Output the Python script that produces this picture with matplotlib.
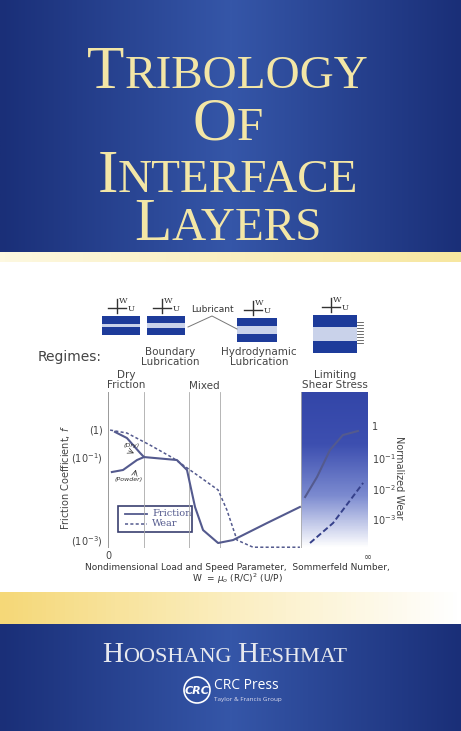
import numpy as np
import matplotlib.pyplot as plt
from matplotlib.patches import Rectangle, Circle

# chart data, x in 0..100 across the axis, y in 0..100 of chart height
fric_x = [2.7, 7.3, 12.4, 13.9, 26.6, 30.5, 33.6, 36.7, 42.5, 48.3, 61.4, 74.1]
fric_y = [74.4, 70.5, 60.9, 58.3, 56.4, 50.0, 26.3, 11.5, 3.2, 5.1, 16.0, 26.3]
powder_x = [1.5, 5.8, 11.2, 13.9]
powder_y = [48.7, 50.0, 56.4, 58.3]
fric_ls_x = [76.1, 80.7, 85.7, 90.7, 96.5]
fric_ls_y = [32.7, 45.5, 62.8, 72.4, 75.0]
wear_x = [0.8, 7.3, 16.2, 25.1, 35.5, 42.5, 45.9, 49.8, 56.0, 74.1]
wear_y = [75.6, 73.7, 66.0, 57.7, 45.5, 37.2, 24.4, 5.1, 0.5, 0.5]
wear_ls_x = [78.0, 86.9, 98.5]
wear_ls_y = [3.2, 16.0, 41.7]
regime_lines = [13.9, 31.3, 43.2, 74.5, 100]
left_ticks = [75.6, 57.0, 3.8]
left_labels = ['(1)', '(10$^{-1}$)', '(10$^{-3}$)']
right_ticks = [77.6, 57.0, 37.0, 18.0]
right_labels = ['1', '10$^{-1}$', '10$^{-2}$', '10$^{-3}$']

W, H = 461, 731
fig = plt.figure(figsize=(W / 100, H / 100), dpi=100)
bg = fig.add_axes([0, 0, 1, 1])
bg.set_xlim(0, W)
bg.set_ylim(H, 0)
bg.axis('off')

# top and bottom blue bands with horizontal gradient
g = np.abs(np.linspace(-1, 1, 200))
cm = plt.matplotlib.colors.LinearSegmentedColormap.from_list('b', ['#3556a8', '#1a2f78'])
bg.imshow(g[None, :], cmap=cm, extent=[0, W, 252, 0], aspect='auto', zorder=0)
bg.imshow(g[None, :], cmap=cm, extent=[0, W, H, 624], aspect='auto', zorder=0)
# yellow stripes
ycm = plt.matplotlib.colors.LinearSegmentedColormap.from_list('y', ['#fdf8e0', '#f7e7a0'])
bg.imshow(np.linspace(0, 1, 100)[None, :], cmap=ycm, extent=[0, W, 262, 252], aspect='auto', zorder=0)
ycm2 = plt.matplotlib.colors.LinearSegmentedColormap.from_list('y2', ['#f5d878', '#fbeec0', '#ffffff'])
bg.imshow(np.linspace(0, 1, 100)[None, :], cmap=ycm2, extent=[0, W, 624, 592], aspect='auto', zorder=0)

fig.canvas.draw()
rend = fig.canvas.get_renderer()


def small_caps(text, cx, cy, big, small, color, font='Liberation Serif'):
    # draw words with big first letters, measure, then center
    parts = []
    for word in text.split(' '):
        parts.append((word[0], big))
        if len(word) > 1:
            parts.append((word[1:], small))
        parts.append((' ', small))
    parts = parts[:-1]
    objs = []
    for s, size in parts:
        t = bg.text(0, cy, s, fontsize=size, family=font, color=color, va='baseline')
        objs.append(t)
    widths = [t.get_window_extent(rend).width for t in objs]
    x = cx - sum(widths) / 2
    for t, w in zip(objs, widths):
        t.set_x(x)
        x += w


ttl = '#f3e6a6'
small_caps('TRIBOLOGY', 228, 88, 44, 34, ttl)
small_caps('OF', 228, 140, 44, 34, ttl)
small_caps('INTERFACE', 228, 192, 44, 34, ttl)
small_caps('LAYERS', 228, 240, 44, 34, ttl)
small_caps('HOOSHANG HESHMAT', 225, 662, 21, 16, '#e6e8ee')

# publisher logo
bg.add_patch(Circle((197, 690), 13, fill=False, ec='white', lw=1.2))
bg.text(197, 691, 'CRC', color='white', fontsize=8, ha='center', va='center', style='italic', weight='bold')
bg.text(214, 689, 'CRC Press', color='white', fontsize=10, va='baseline', family='Open Sans')
bg.text(214, 701, 'Taylor & Francis Group', color='#dde', fontsize=4.6, va='baseline', family='Open Sans')

# regime pictures
rects = [(102, 316, 38, 19, 0.35), (147, 316, 38, 19, 0.5), (237, 318, 40, 24, 0.6), (313, 315, 44, 38, 0.6)]
for x0, y0, w, h, frac in rects:
    bg.add_patch(Rectangle((x0, y0), w, h, fc='#1d3b9a', ec='none'))
    lh = h * frac * 0.6
    bg.add_patch(Rectangle((x0, y0 + (h - lh) / 2), w, lh, fc='#c9d2ea', ec='none'))
    ax_ = x0 + w / 2 - 4
    bg.plot([ax_, ax_], [y0 - 17, y0 - 3], color='#333', lw=1)
    bg.plot([ax_ - 9, ax_ + 9], [y0 - 8, y0 - 8], color='#333', lw=1)
    bg.text(ax_ + 2, y0 - 13, 'W', fontsize=6, family='DejaVu Serif', color='#333')
    bg.text(ax_ + 11, y0 - 5, 'U', fontsize=6, family='DejaVu Serif', color='#333')
for yy in range(322, 346, 3):
    bg.plot([357, 363], [yy, yy], color='#555', lw=0.6)
bg.text(212, 312, 'Lubricant', fontsize=6.5, ha='center', color='#333')
bg.plot([188, 212, 237], [327, 316, 329], color='#777', lw=0.7)

gray = '#444'
bg.text(38, 357, 'Regimes:', fontsize=10, color=gray, va='center')
bg.text(170, 357, 'Boundary\nLubrication', fontsize=7.5, color=gray, ha='center', va='center', linespacing=0.9)
bg.text(259, 357, 'Hydrodynamic\nLubrication', fontsize=7.5, color=gray, ha='center', va='center', linespacing=0.9)
bg.text(126, 380, 'Dry\nFriction', fontsize=7.5, color=gray, ha='center', va='center', linespacing=0.9)
bg.text(204, 386, 'Mixed', fontsize=7.5, color=gray, ha='center', va='center')
bg.text(335, 380, 'Limiting\nShear Stress', fontsize=7.5, color=gray, ha='center', va='center', linespacing=0.9)
bg.text(65, 478, 'Friction Coefficient, $f$', fontsize=7, color=gray, rotation=90, ha='center', va='center')
bg.text(399, 478, 'Normalized Wear', fontsize=7, color=gray, rotation=-90, ha='center', va='center')
bg.text(237, 567, 'Nondimensional Load and Speed Parameter,  Sommerfeld Number,', fontsize=6.5, color='#333', ha='center', va='center')
bg.text(237, 579, r'W  = $\mu_o$ (R/C)$^2$ (U/P)', fontsize=6.5, color='#333', ha='center', va='center')

# chart axes: x 108..367, y 392..548 px
ax = fig.add_axes([108 / W, 1 - 548 / H, 259 / W, 156 / H])
ax.set_xlim(0, 100)
ax.set_ylim(0, 100)
ax.patch.set_alpha(0)
for s in ax.spines.values():
    s.set_visible(False)
ax.set_xticks([])
ax.set_yticks([])
ax.axhline(0, color='#999', lw=0.7)
ax.axvline(0, color='#999', lw=0.7)
for xv in regime_lines:
    ax.axvline(xv, color='#aaa', lw=0.6)
shade = plt.matplotlib.colors.LinearSegmentedColormap.from_list('s', ['#ffffff', '#7c8bd0', '#3d4fb0', '#3346a8'])
ax.imshow(np.linspace(0, 1, 100)[:, None], cmap=shade, extent=[74.5, 100, 0, 100], origin='lower', aspect='auto', zorder=0)

lc = '#545a8e'
ax.plot(fric_x, fric_y, color=lc, lw=1.5)
ax.plot(powder_x, powder_y, color=lc, lw=1.5)
ax.plot(fric_ls_x, fric_ls_y, color=lc, lw=1.5)
ax.plot(wear_x, wear_y, color=lc, lw=1.1, ls=(0, (2, 1.5)))
ax.plot(wear_ls_x, wear_ls_y, color='#35408a', lw=1.4, ls=(0, (3, 1.5)))
ax.text(9, 65, '(Dry)', fontsize=4.5, style='italic', color='#333', ha='center')
ax.text(8, 43, '(Powder)', fontsize=4.5, style='italic', color='#333', ha='center')
ax.annotate('', xy=(11, 60), xytext=(7, 63), arrowprops=dict(arrowstyle='->', lw=0.5, color='#333'))
ax.annotate('', xy=(11, 52), xytext=(10, 45), arrowprops=dict(arrowstyle='->', lw=0.5, color='#333'))
for yv, lab in zip(left_ticks, left_labels):
    ax.text(-2, yv, lab, fontsize=7, color=gray, ha='right', va='center')
for yv, lab in zip(right_ticks, right_labels):
    ax.text(102, yv, lab, fontsize=7, color=gray, ha='left', va='center')
ax.text(0, -5, '0', fontsize=7, color=gray, ha='center', va='center')
ax.text(100, -5, r'$\infty$', fontsize=7, color=gray, ha='center', va='center')
for t in ax.texts:
    t.set_clip_on(False)

# legend box
bg.add_patch(Rectangle((118, 506), 74, 26, fill=False, ec='#3a3f70', lw=1.2))
bg.plot([125, 147], [514, 514], color=lc, lw=1.3)
bg.plot([125, 147], [524, 524], color=lc, lw=1.1, ls=(0, (2, 1.5)))
bg.text(152, 514, 'Friction', fontsize=7, family='DejaVu Serif', color=lc, va='center')
bg.text(152, 524, 'Wear', fontsize=7, family='DejaVu Serif', color=lc, va='center')

fig.savefig('out.png', dpi=100)
